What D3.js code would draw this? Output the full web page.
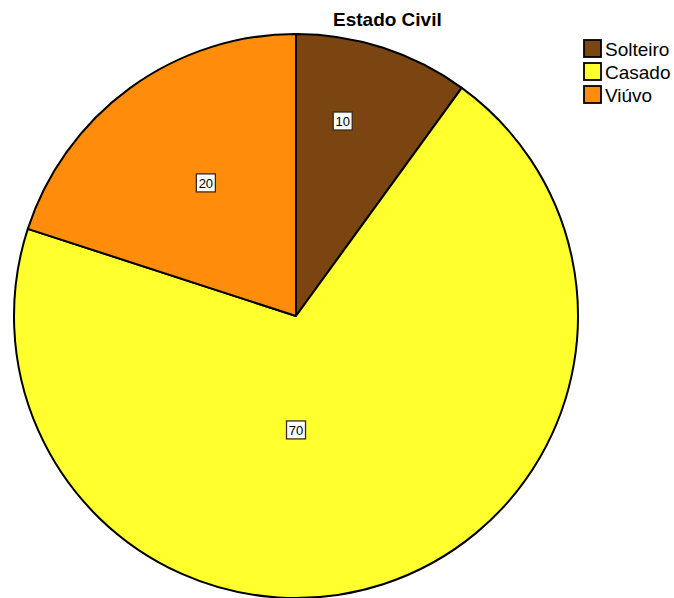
<!DOCTYPE html>
<html>
<head>
<meta charset="utf-8">
<script src="https://cdn.jsdelivr.net/npm/d3@7"></script>
<style>
  html, body { margin: 0; padding: 0; background: #ffffff; }
  svg { display: block; }
</style>
</head>
<body>
<script>
// Estado Civil — frequency by category
const categories = ["Solteiro", "Casado", "Viúvo"];
const values = [10, 70, 20];
const colors = ["#7b4511", "#ffff2e", "#ff8c0a"];
const title = "Estado Civil";

const width = 674, height = 598;
const cx = 296, cy = 316, radius = 282;

// radial placement of each value label (fraction of radius) and angular nudge (radians)
const labelRadius = [0.711, 0.404, 0.57];
const labelNudge = [-0.079, 0.314, 0.033];

const svg = d3.select("body").append("svg")
  .attr("width", width).attr("height", height);

const pie = d3.pie().sort(null).value(d => d.value);
const data = categories.map((c, i) => ({ name: c, value: values[i], color: colors[i] }));
const arcs = pie(data);
const arc = d3.arc().innerRadius(0).outerRadius(radius);

const g = svg.append("g").attr("transform", `translate(${cx},${cy})`);

g.selectAll("path.slice").data(arcs).join("path")
  .attr("class", "slice")
  .attr("d", arc)
  .attr("fill", d => d.data.color)
  .attr("stroke", "#000")
  .attr("stroke-width", 2)
  .attr("stroke-linejoin", "round");

// value labels in small framed boxes
const lab = g.selectAll("g.lab").data(arcs).join("g")
  .attr("class", "lab")
  .attr("transform", (d, i) => {
    const a = (d.startAngle + d.endAngle) / 2 + labelNudge[i];
    const r = radius * labelRadius[i];
    return `translate(${r * Math.sin(a)},${-r * Math.cos(a)})`;
  });
lab.append("rect")
  .attr("x", -9.5).attr("y", -9).attr("width", 19).attr("height", 18)
  .attr("fill", "#fff").attr("stroke", "#3a2a1a").attr("stroke-width", 1.3);
lab.append("text")
  .attr("text-anchor", "middle").attr("dy", "0.36em")
  .attr("font-family", "Liberation Sans, Arial, sans-serif")
  .attr("font-size", 13).attr("fill", "#000")
  .text(d => d.data.value);

// title
svg.append("text")
  .attr("x", 333).attr("y", 26)
  .attr("font-family", "Liberation Sans, Arial, sans-serif")
  .attr("font-weight", "bold").attr("font-size", 19)
  .text(title);

// legend
const legend = svg.append("g").attr("transform", "translate(584,40)");
const item = legend.selectAll("g").data(data).join("g")
  .attr("transform", (d, i) => `translate(0,${i * 23})`);
item.append("rect")
  .attr("x", 0).attr("y", 0).attr("width", 17).attr("height", 17)
  .attr("fill", d => d.color).attr("stroke", "#000").attr("stroke-width", 1.8);
item.append("text")
  .attr("x", 21).attr("y", 16)
  .attr("font-family", "Liberation Sans, Arial, sans-serif")
  .attr("font-size", 19).attr("fill", "#000")
  .text(d => d.name);
</script>
</body>
</html>
